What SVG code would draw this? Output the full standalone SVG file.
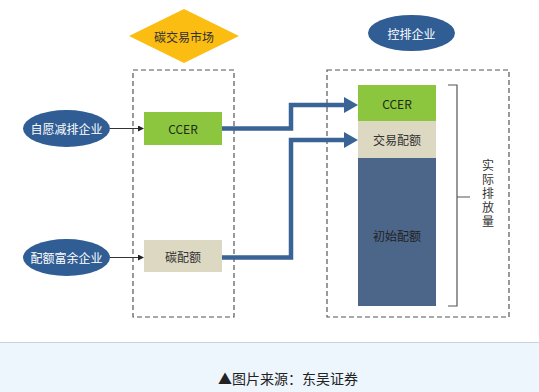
<svg xmlns="http://www.w3.org/2000/svg" width="539" height="392" viewBox="0 0 539 392">
<style>
text{font-family:"Noto Sans CJK SC","Microsoft YaHei",sans-serif;font-size:12px;text-anchor:middle;dominant-baseline:central}
.ell{fill:#2f5d94}
.wt{fill:#ffffff}
.dk{fill:#1f2a1a}
.dash{fill:none;stroke:#555;stroke-width:1.2;stroke-dasharray:5,3}
.thin{stroke:#333;stroke-width:1;fill:none}
.thick{stroke:#3a6396;stroke-width:4.5;fill:none}
</style>
<defs>
<marker id="sm" markerWidth="6" markerHeight="6" refX="5" refY="3" orient="auto" markerUnits="userSpaceOnUse"><path d="M0,0 L6,3 L0,6 Z" fill="#222"/></marker>
</defs>
<rect width="539" height="392" fill="#ffffff"/>
<g id="market-label"><polygon points="184,9 239,36 184,63 129,36" fill="#fbbd12"/><text x="184" y="36" fill="#333">碳交易市场</text></g>
<g id="market-box"><rect class="dash" x="133" y="70" width="101" height="247"/></g>
<g id="control-label"><ellipse class="ell" cx="411.5" cy="33" rx="43.5" ry="18"/><text class="wt" x="411.5" y="33">控排企业</text></g>
<g id="control-box"><rect class="dash" x="327" y="70" width="182" height="247"/></g>
<g id="voluntary"><ellipse class="ell" cx="66.5" cy="128.5" rx="43.5" ry="18.5"/><text class="wt" x="66.5" y="128.5">自愿减排企业</text></g>
<g id="surplus"><ellipse class="ell" cx="66.5" cy="257.5" rx="43.5" ry="18.5"/><text class="wt" x="66.5" y="257.5">配额富余企业</text></g>
<g id="ccer-market"><rect x="144" y="112" width="78" height="33" fill="#8cc63f"/><text class="dk" x="183" y="128.5">CCER</text></g>
<g id="allowance-market"><rect x="144" y="240" width="78" height="32" fill="#ddd8c2"/><text x="183" y="256" fill="#333">碳配额</text></g>
<g id="stack-ccer"><rect x="358" y="85" width="78" height="36" fill="#8cc63f"/><text class="dk" x="397" y="103">CCER</text></g>
<g id="stack-traded"><rect x="358" y="121" width="78" height="37" fill="#ddd8c2"/><text x="397" y="139.5" fill="#333">交易配额</text></g>
<g id="stack-initial"><rect x="358" y="158" width="78" height="148" fill="#4b6689"/><text x="397" y="235" fill="#222">初始配额</text></g>
<g id="actual-emission">
<path d="M448,85 H457 V306 H448 M457,197 H470" fill="none" stroke="#555" stroke-width="1.2"/>
<text x="488" y="194" fill="#333" style="writing-mode:vertical-rl;letter-spacing:2px">实际排放量</text>
</g>
<g id="connectors">
<path class="thin" d="M110,128.5 H143" marker-end="url(#sm)"/>
<path class="thin" d="M110,257.5 H143" marker-end="url(#sm)"/>
<path class="thick" d="M222,128.5 H291 V105 H345"/>
<polygon points="344,97 358,105 344,113" fill="#3a6396"/>
<path class="thick" d="M222,257.5 H291 V140 H345"/>
<polygon points="344,132 358,140 344,148" fill="#3a6396"/>
</g>
<g id="footer">
<rect x="0" y="342" width="539" height="50" fill="#eef6fd"/>
<line x1="0" y1="342.5" x2="539" y2="342.5" stroke="#c9d3dc"/>
<text x="288" y="378" style="font-size:14px" fill="#222">▲图片来源：东吴证券</text>
</g>
</svg>
